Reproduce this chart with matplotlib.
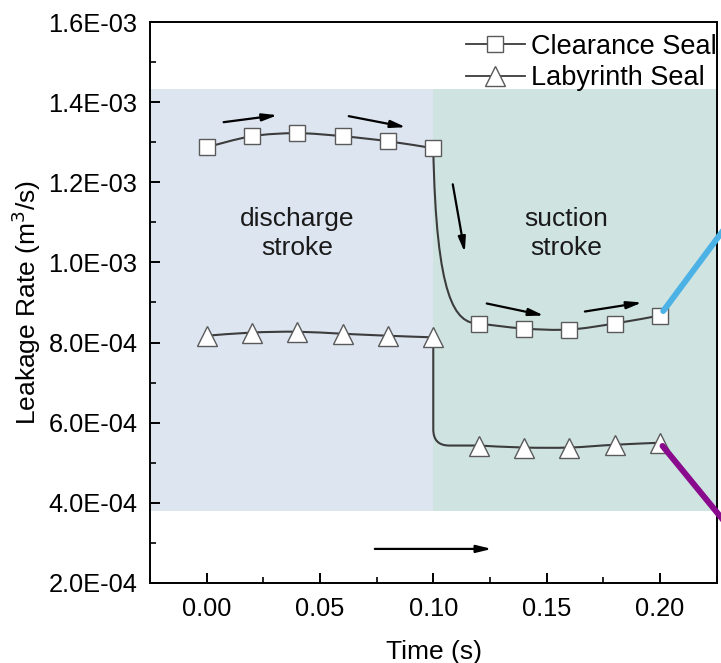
import numpy as np
import matplotlib
matplotlib.use("Agg")
import matplotlib.pyplot as plt
from matplotlib.path import Path
from matplotlib.patches import PathPatch, Rectangle
from matplotlib.ticker import FuncFormatter, MultipleLocator

# ---------------- data ----------------
time = [0.00, 0.02, 0.04, 0.06, 0.08, 0.10, 0.12, 0.14, 0.16, 0.18, 0.20]
clearance = [1.2875e-3, 1.315e-3, 1.3225e-3, 1.315e-3, 1.3025e-3, 1.285e-3,
             8.475e-4, 8.35e-4, 8.325e-4, 8.475e-4, 8.675e-4]
labyrinth = [8.17e-4, 8.25e-4, 8.27e-4, 8.22e-4, 8.17e-4, 8.13e-4,
             5.43e-4, 5.38e-4, 5.38e-4, 5.45e-4, 5.50e-4]
series_labels = ["Clearance Seal", "Labyrinth Seal"]
stroke_labels = ["discharge\nstroke", "suction\nstroke"]
xticks = [0.00, 0.05, 0.10, 0.15, 0.20]
yticks = [2e-4, 4e-4, 6e-4, 8e-4, 1.0e-3, 1.2e-3, 1.4e-3, 1.6e-3]

plt.rcParams["font.family"] = ["Liberation Sans", "DejaVu Sans"]

fig = plt.figure(figsize=(7.21, 6.63), dpi=100)
ax = fig.add_axes([0.208, 0.1207, 0.7865, 0.8461])
xmin, xmax = -0.025, 0.2252
ymin, ymax = 2e-4, 1.6e-3
ax.set_xlim(xmin, xmax)
ax.set_ylim(ymin, ymax)

# background bands
band_lo, band_hi = 3.8e-4, 1.4325e-3
split = time[5]
ax.add_patch(Rectangle((xmin, band_lo), split - xmin, band_hi - band_lo,
                       facecolor="#dde5f1", edgecolor="none", zorder=0))
ax.add_patch(Rectangle((split, band_lo), xmax - split, band_hi - band_lo,
                       facecolor="#cfe4e1", edgecolor="none", zorder=0))


def smooth_curve(xs, ys, drop):
    pts = np.column_stack([xs, ys])
    verts = [tuple(pts[0])]
    codes = [Path.MOVETO]
    n = len(pts)

    def cr(i, lo, hi):
        p0 = pts[i - 1] if i - 1 >= lo else pts[i]
        p1, p2 = pts[i], pts[i + 1]
        p3 = pts[i + 2] if i + 2 <= hi else pts[i + 1]
        c1 = p1 + (p2 - p0) / 6.0
        c2 = p2 - (p3 - p1) / 6.0
        verts.extend([tuple(c1), tuple(c2), tuple(p2)])
        codes.extend([Path.CURVE4] * 3)

    for i in range(0, 5):
        cr(i, 0, 5)
    p5, p6 = pts[5], pts[6]
    dx, dy = p6[0] - p5[0], p5[1] - p6[1]
    if drop == "soft":
        c1 = (p5[0] + 0.065 * dx, p6[1] + 0.14 * dy)
        c2 = (p5[0] + 0.48 * dx, p6[1])
        verts.extend([c1, c2, tuple(p6)])
        codes.extend([Path.CURVE4] * 3)
    else:
        verts.append((p5[0], p6[1] + 0.15 * dy))
        codes.append(Path.LINETO)
        verts.extend([(p5[0], p6[1]), (p5[0] + 0.35 * dx, p6[1])])
        codes.extend([Path.CURVE3] * 2)
        verts.append(tuple(p6))
        codes.append(Path.LINETO)
    for i in range(6, n - 1):
        cr(i, 6, n - 1)
    return Path(verts, codes)


line_col = "#3c3c3c"
for ys, d in [(clearance, "soft"), (labyrinth, "sharp")]:
    ax.add_patch(PathPatch(smooth_curve(time, ys, d), facecolor="none",
                           edgecolor=line_col, lw=1.5, zorder=3))

mk_edge = "#5a5a5a"
ax.plot(time, clearance, ls="none", marker="s", ms=11.5, mfc="white",
        mec=mk_edge, mew=1.0, zorder=4)
ax.plot(time, labyrinth, ls="none", marker="^", ms=14, mfc="white",
        mec=mk_edge, mew=1.0, zorder=4)

# legend handles
h1, = ax.plot([], [], color=line_col, lw=1.3, marker="s", ms=11.5,
              mfc="white", mec=mk_edge, label=series_labels[0])
h2, = ax.plot([], [], color=line_col, lw=1.3, marker="^", ms=14,
              mfc="white", mec=mk_edge, label=series_labels[1])
leg = ax.legend(handles=[h1, h2], loc="upper right", frameon=False,
                fontsize=19.5, handlelength=2.2, handletextpad=0.2,
                labelspacing=0.2, borderaxespad=0.0,
                bbox_to_anchor=(1.018, 0.998))

# stroke labels
ax.text(0.040, 1.072e-3, stroke_labels[0], ha="center", va="center",
        fontsize=19, color="#1a1a1a", linespacing=1.3)
ax.text(0.1585, 1.072e-3, stroke_labels[1], ha="center", va="center",
        fontsize=19, color="#1a1a1a", linespacing=1.3)

# arrows
arrow_kw = dict(arrowstyle="-|>,head_length=0.9,head_width=0.22",
                color="black", lw=1.6, mutation_scale=10,
                shrinkA=0, shrinkB=0)
arrows = [((0.0075, 1.350e-3), (0.0313, 1.3675e-3)),
          ((0.0627, 1.365e-3), (0.0879, 1.3375e-3)),
          ((0.1086, 1.195e-3), (0.1139, 1.025e-3)),
          ((0.1236, 8.975e-4), (0.1488, 8.675e-4)),
          ((0.1669, 8.775e-4), (0.1921, 9.000e-4)),
          ((0.0742, 2.85e-4), (0.1258, 2.85e-4))]
for s, e in arrows:
    ax.annotate("", xy=e, xytext=s, arrowprops=arrow_kw, zorder=5)

# coloured pointer lines leaving the plot
ax.annotate("", xy=(time[-1], clearance[-1]), xytext=(1.045, 0.675),
            textcoords="axes fraction", annotation_clip=False,
            arrowprops=dict(arrowstyle="-", color="#4cb2e6", lw=4.3,
                            shrinkA=0, shrinkB=4), zorder=6)
ax.annotate("", xy=(time[-1], labyrinth[-1]), xytext=(1.045, 0.07),
            textcoords="axes fraction", annotation_clip=False,
            arrowprops=dict(arrowstyle="-", color="#8a0a8e", lw=4.3,
                            shrinkA=0, shrinkB=3), zorder=6)

# axes styling
for sp in ax.spines.values():
    sp.set_linewidth(1.4)
ax.set_xticks(xticks)
ax.set_yticks(yticks)
ax.xaxis.set_major_formatter(FuncFormatter(lambda v, p: f"{v:.2f}"))
ax.yaxis.set_major_formatter(FuncFormatter(lambda v, p: f"{v:.1E}"))
ax.xaxis.set_minor_locator(MultipleLocator(0.025))
ax.yaxis.set_minor_locator(MultipleLocator(1e-4))
ax.tick_params(which="major", direction="in", length=7, width=1.4,
               labelsize=18.3, colors="black")
ax.tick_params(which="minor", direction="in", length=4, width=1.2)
ax.tick_params(axis="x", which="major", pad=10)
ax.tick_params(axis="y", which="major", pad=9)
ax.set_xlabel("Time (s)", fontsize=19, labelpad=14)
ax.set_ylabel("Leakage Rate (m$^3$/s)", fontsize=19, labelpad=4)

fig.savefig("out.png", dpi=100)
